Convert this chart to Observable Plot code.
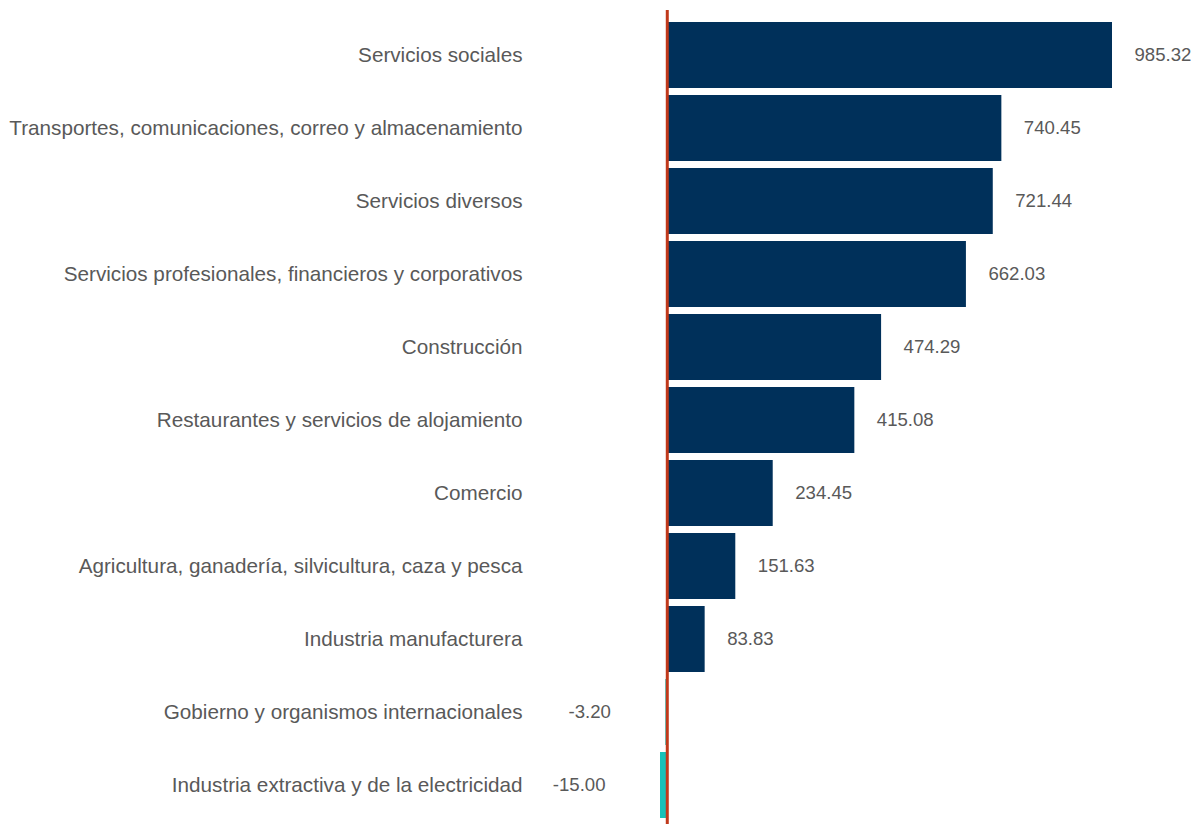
<!DOCTYPE html>
<html>
<head>
<meta charset="utf-8">
<script src="https://cdn.jsdelivr.net/npm/d3@7"></script>
<script src="https://cdn.jsdelivr.net/npm/@observablehq/plot@0.6"></script>
<style>
  html, body { margin: 0; padding: 0; background: #fff; }
  #chart { width: 1191px; height: 824px; }
</style>
</head>
<body>
<div id="chart"></div>
<script>
const categories = [
  "Servicios sociales",
  "Transportes, comunicaciones, correo y almacenamiento",
  "Servicios diversos",
  "Servicios profesionales, financieros y corporativos",
  "Construcción",
  "Restaurantes y servicios de alojamiento",
  "Comercio",
  "Agricultura, ganadería, silvicultura, caza y pesca",
  "Industria manufacturera",
  "Gobierno y organismos internacionales",
  "Industria extractiva y de la electricidad"
];
const values = [985.32, 740.45, 721.44, 662.03, 474.29, 415.08, 234.45, 151.63, 83.83, -3.20, -15.00];

const data = categories.map((c, i) => ({ category: c, value: values[i] }));
const pos = data.filter(d => d.value >= 0);
const neg = data.filter(d => d.value < 0);

const chart = Plot.plot({
  width: 1191,
  height: 824,
  marginLeft: 660,
  marginRight: 79,
  marginTop: 17,
  marginBottom: 2,
  style: { fontFamily: "Liberation Sans, Arial, sans-serif", background: "#fff" },
  x: { domain: [-15, 985.32], axis: null },
  y: { domain: categories, paddingInner: 0.1, paddingOuter: 0.05, label: null },
  marks: [
    Plot.axisY({ tickSize: 0, tickPadding: 138, fontSize: 20.7, fill: "#595959", label: null }),
    Plot.barX(data, {
      y: "category", x: "value",
      fill: d => d.value >= 0 ? "#00305a" : "#17c1b8"
    }),
    Plot.ruleX([0], { stroke: "#c0391b", strokeWidth: 3, insetTop: -7, insetBottom: -2 }),
    Plot.text(pos, {
      y: "category", x: "value", text: d => d.value.toFixed(2),
      textAnchor: "start", dx: 22, fontSize: 18.6, fill: "#595959"
    }),
    Plot.text(neg, {
      y: "category", x: "value", text: d => d.value.toFixed(2),
      textAnchor: "end", dx: -55, fontSize: 18.6, fill: "#595959"
    })
  ]
});
document.getElementById("chart").appendChild(chart);
</script>
</body>
</html>
